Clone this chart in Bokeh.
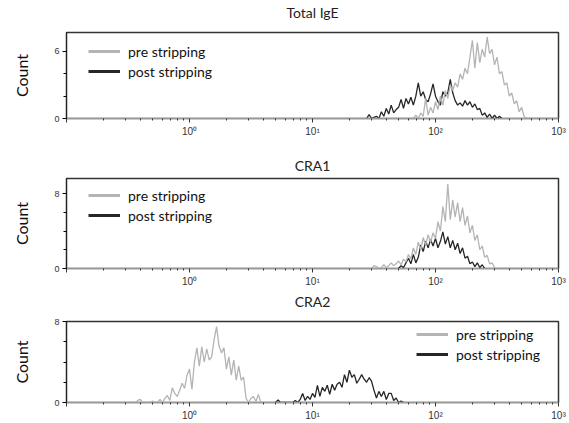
from bokeh.plotting import figure
from bokeh.models import FixedTicker, Legend, LegendItem, Range1d, LinearAxis
from bokeh.layouts import column
from bokeh.embed import file_html
from bokeh.resources import INLINE

# ---------------- data ----------------
panel_titles = ["Total IgE", "CRA1", "CRA2"]
series_labels = ["pre stripping", "post stripping"]
x_tick_values = [0.1, 1, 10, 100, 1000]
x_tick_labels = ["", "10\u2070", "10\u00b9", "10\u00b2", "10\u00b3"]

# histogram channel width in log10 units
BIN_STEP = 0.02

# Total IgE
ige_pre_start = 1.80
ige_pre_counts = [0, 0, 0.3, 0, 0.5, 0.2, 1.8, 0.3, 1.0, 0.5, 1.5, 0.8, 2.0, 1.2, 2.5, 1.8,
                  3.0, 2.5, 3.2, 2.8, 4.0, 3.5, 4.5, 4.0, 5.5, 7.0, 4.5, 6.8, 5.0, 6.2, 5.5,
                  7.3, 5.8, 6.2, 4.8, 5.5, 4.0, 4.2, 3.0, 3.2, 2.0, 2.3, 1.3, 1.6, 0.6, 1.0,
                  0.2, 0]
ige_post_start = 1.44
ige_post_counts = [0, 0.35, 0, 0.1, 0.2, 0, 0.6, 0.2, 0.9, 0.4, 1.2, 0.5, 0.8, 1.0, 1.7, 0.9,
                   1.8, 1.3, 1.9, 1.2, 2.0, 3.2, 2.0, 2.4, 1.7, 1.5, 2.2, 3.1, 2.0, 1.5, 1.2,
                   2.4, 2.0, 2.3, 3.5, 2.3, 1.6, 1.2, 1.4, 1.1, 1.6, 1.2, 1.5, 1.0, 1.3, 0.8,
                   0.9, 0.3, 0.5, 0.1, 0.4, 0, 0.3, 0, 0.2, 0]

# CRA1
cra1_pre_start = 1.48
cra1_pre_counts = [0, 0.3, 0.2, 0, 0.1, 0.4, 0.1, 0.3, 0.6, 0.3, 0.5, 0.8, 0.4, 1.0, 0.7, 1.5,
                   1.0, 2.2, 1.5, 2.8, 2.0, 3.3, 2.5, 3.6, 2.8, 3.8, 3.2, 5.0, 4.0, 6.6, 5.0,
                   9.0, 5.2, 7.3, 5.5, 7.0, 5.0, 6.5, 4.6, 5.6, 3.8, 4.6, 3.0, 3.6, 2.0, 2.4,
                   1.2, 1.4, 0.5, 0.6, 0.1, 0]
cra1_post_start = 1.70
cra1_post_counts = [0, 0.3, 0.1, 0.6, 1.1, 0.5, 1.5, 0.6, 1.2, 2.5, 1.8, 2.9, 2.2, 3.1, 2.4,
                    3.2, 2.2, 2.9, 3.9, 2.6, 3.4, 2.2, 3.0, 2.0, 2.7, 1.6, 2.2, 1.1, 1.3, 0.5,
                    0.7, 0.2, 0.6, 0.1, 0.4, 0]

# CRA2
cra2_pre_start = -0.44
cra2_pre_counts = [0, 0.2, 0.3, 0, 0, 0, 0, 0.15, 0, 0, 0.3, 0, 0.4, 0.7, 0.2, 1.45, 0.9,
                   0.6, 1.2, 1.9, 1.4, 2.7, 3.3, 1.3, 4.0, 5.4, 3.6, 5.5, 4.0, 5.3, 4.2, 4.5,
                   6.2, 7.5, 5.6, 4.9, 5.4, 3.3, 4.5, 2.7, 4.2, 2.2, 3.6, 2.2, 2.5, 0.4, 0,
                   0.4, 0.6, 0.1, 0.8, 0, 0]
cra2_post_start = 0.70
cra2_post_counts = [0, 0.25, 0, 0, 0, 0, 0, 0, 0.2, 0, 0.3, 0.9, 0.2, 0.6, 0.3, 0.9, 0.5, 1.7,
                    0.6, 1.5, 1.1, 1.7, 0.8, 1.8, 1.2, 1.8, 2.0, 1.5, 2.75, 2.0, 3.2, 2.5,
                    2.75, 1.9, 2.3, 2.75, 2.3, 2.0, 2.45, 2.1, 1.2, 0.45, 1.1, 0.6, 1.1, 0.3,
                    0.9, 0.9, 0.2, 0.45, 0, 0.15, 0]

y_major_ticks = [[0, 6], [0, 8], [0, 8]]
y_minor_ticks = [[2, 4], [2, 4, 6], [2, 4, 6]]
y_tops = [7.7, 9.6, 8.0]

# ---------------- styling ----------------
GREY = "#b4b4b4"
BLACK = "#262626"
FONT = "Lato"


def channel_x(start, counts):
    return [10 ** (start + i * BIN_STEP) for i in range(len(counts))]


def make_panel(idx, pre, post, height, top, bottom, legend_xy, title_gap):
    p = figure(width=569, height=height, x_axis_type="log",
               x_range=Range1d(0.1, 1000), y_range=Range1d(0, y_tops[idx]),
               output_backend="svg", toolbar_location=None,
               min_border_left=66, min_border_right=11,
               min_border_top=top, min_border_bottom=bottom)
    p.title.visible = False

    # panel title: label of a tick-less axis above the frame
    title_axis = LinearAxis(ticker=FixedTicker(ticks=[]), axis_label=panel_titles[idx],
                            axis_line_color=None, major_tick_line_color=None,
                            minor_tick_line_color=None, major_label_text_font_size="0px",
                            axis_label_standoff=title_gap,
                            axis_label_text_font=FONT, axis_label_text_font_size="14px",
                            axis_label_text_font_style="normal",
                            axis_label_text_color="#222222")
    p.add_layout(title_axis, "above")

    p.xgrid.visible = False
    p.ygrid.visible = False
    p.outline_line_color = "#333333"
    p.outline_line_width = 1.5
    p.background_fill_color = "white"
    p.border_fill_color = "white"

    xa = p.below[0]
    minors = []
    for e in range(-1, 3):
        for m in range(2, 10):
            minors.append(m * 10 ** e)
    xa.ticker = FixedTicker(ticks=x_tick_values, minor_ticks=minors)
    xa.major_label_overrides = {v: s for v, s in zip(x_tick_values, x_tick_labels)}
    xa.major_label_text_font = "Liberation Sans"
    xa.major_label_text_font_size = "10px"
    xa.major_label_text_color = "#333333"
    xa.major_tick_out = 4
    xa.major_tick_in = 0
    xa.minor_tick_out = 2
    xa.minor_tick_in = 0
    xa.axis_line_color = "#999999"
    xa.major_tick_line_color = "#333333"
    xa.minor_tick_line_color = "#333333"
    xa.major_label_standoff = 3

    ya = p.yaxis[0]
    ya.ticker = FixedTicker(ticks=y_major_ticks[idx], minor_ticks=y_minor_ticks[idx])
    ya.major_label_text_font = "Liberation Sans"
    ya.major_label_text_font_size = "9px"
    ya.major_label_text_color = "#333333"
    ya.major_tick_out = 4
    ya.major_tick_in = 0
    ya.minor_tick_out = 3
    ya.minor_tick_in = 0
    ya.axis_line_color = "#222222"
    ya.major_label_standoff = 3
    ya.axis_label = "Count"
    ya.axis_label_text_font = FONT
    ya.axis_label_text_font_size = "16px"
    ya.axis_label_text_font_style = "normal"
    ya.axis_label_text_color = "#111111"
    ya.axis_label_standoff = 20

    (pre_start, pre_counts), (post_start, post_counts) = pre, post
    px = [0.1] + channel_x(pre_start, pre_counts) + [1000]
    py = [0] + list(pre_counts) + [0]
    qx = channel_x(post_start, post_counts)
    qy = list(post_counts)
    p.line(qx, qy, line_color=BLACK, line_width=1.3)
    p.line(px, py, line_color=GREY, line_width=1.3)

    # legend-only renderers (single point: draws nothing in the plot area)
    leg_pre = p.line(px[:1], py[:1], line_color=GREY, line_width=3)
    leg_post = p.line(qx[:1], qy[:1], line_color=BLACK, line_width=3)
    legend = Legend(items=[LegendItem(label=series_labels[0], renderers=[leg_pre]),
                           LegendItem(label=series_labels[1], renderers=[leg_post])],
                    location=legend_xy, orientation="vertical",
                    background_fill_alpha=0, border_line_alpha=0,
                    label_text_font=FONT, label_text_font_size="14px",
                    label_text_color="#111111",
                    glyph_width=32, glyph_height=20, label_height=20,
                    label_standoff=8, spacing=0, padding=0, margin=0)
    p.add_layout(legend)
    return p


p1 = make_panel(0, (ige_pre_start, ige_pre_counts), (ige_post_start, ige_post_counts),
                height=147, top=32, bottom=29, legend_xy=(22, 37), title_gap=12)
p2 = make_panel(1, (cra1_pre_start, cra1_pre_counts), (cra1_post_start, cra1_post_counts),
                height=142, top=31, bottom=19, legend_xy=(22, 43), title_gap=5)
p3 = make_panel(2, (cra2_pre_start, cra2_pre_counts), (cra2_post_start, cra2_post_counts),
                height=134, top=29, bottom=20, legend_xy=(350, 38), title_gap=12)

layout = column(p1, p2, p3, spacing=0)
open("out.html", "w").write(file_html(layout, INLINE))
